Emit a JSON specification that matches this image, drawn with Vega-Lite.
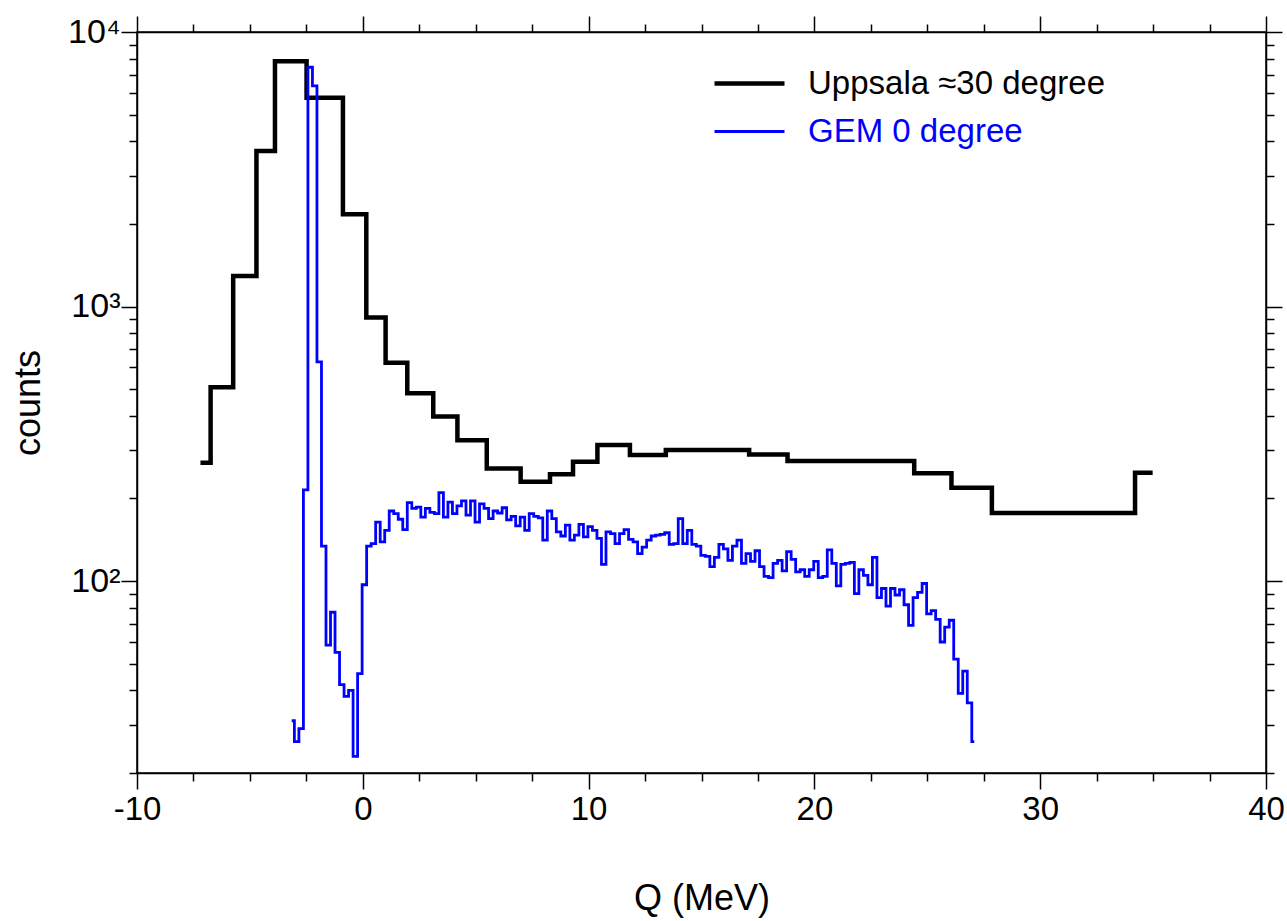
{
  "$schema": "https://vega.github.io/schema/vega-lite/v6.json",
  "autosize": "none",
  "width": 1129,
  "height": 741,
  "padding": {"left": 137, "top": 32, "right": 21, "bottom": 148},
  "background": "white",
  "config": {
    "view": {"stroke": "black", "strokeWidth": 1.5},
    "font": "Liberation Sans",
    "axis": {
      "domainColor": "black", "domainWidth": 1.5,
      "tickColor": "black", "tickWidth": 1.5,
      "labelColor": "black", "titleColor": "black",
      "labelFont": "Liberation Sans", "titleFont": "Liberation Sans",
      "grid": false, "titleFontWeight": "normal", "labelFlush": false, "labelOverlap": false
    },
    "legend": {"labelFont": "Liberation Sans"}
  },
  "datasets": {
    "uppsala": [
      {"q": -7.19, "counts": 270, "series": "Uppsala ≈30 degree"},
      {"q": -6.74, "counts": 508, "series": "Uppsala ≈30 degree"},
      {"q": -5.74, "counts": 1291, "series": "Uppsala ≈30 degree"},
      {"q": -4.71, "counts": 3686, "series": "Uppsala ≈30 degree"},
      {"q": -3.89, "counts": 7820, "series": "Uppsala ≈30 degree"},
      {"q": -2.49, "counts": 5765, "series": "Uppsala ≈30 degree"},
      {"q": -0.88, "counts": 2167, "series": "Uppsala ≈30 degree"},
      {"q": 0.155, "counts": 913, "series": "Uppsala ≈30 degree"},
      {"q": 1.01, "counts": 624, "series": "Uppsala ≈30 degree"},
      {"q": 1.97, "counts": 483, "series": "Uppsala ≈30 degree"},
      {"q": 3.12, "counts": 398, "series": "Uppsala ≈30 degree"},
      {"q": 4.19, "counts": 326, "series": "Uppsala ≈30 degree"},
      {"q": 5.49, "counts": 257, "series": "Uppsala ≈30 degree"},
      {"q": 6.99, "counts": 230, "series": "Uppsala ≈30 degree"},
      {"q": 8.29, "counts": 245, "series": "Uppsala ≈30 degree"},
      {"q": 9.31, "counts": 272, "series": "Uppsala ≈30 degree"},
      {"q": 10.39, "counts": 313, "series": "Uppsala ≈30 degree"},
      {"q": 11.83, "counts": 288, "series": "Uppsala ≈30 degree"},
      {"q": 13.42, "counts": 300, "series": "Uppsala ≈30 degree"},
      {"q": 17.11, "counts": 289, "series": "Uppsala ≈30 degree"},
      {"q": 18.81, "counts": 274, "series": "Uppsala ≈30 degree"},
      {"q": 20.28, "counts": 274, "series": "Uppsala ≈30 degree"},
      {"q": 24.42, "counts": 247, "series": "Uppsala ≈30 degree"},
      {"q": 26.07, "counts": 219, "series": "Uppsala ≈30 degree"},
      {"q": 27.86, "counts": 177, "series": "Uppsala ≈30 degree"},
      {"q": 29.59, "counts": 177, "series": "Uppsala ≈30 degree"},
      {"q": 32.29, "counts": 177, "series": "Uppsala ≈30 degree"},
      {"q": 34.2, "counts": 248, "series": "Uppsala ≈30 degree"},
      {"q": 34.98, "counts": 248, "series": "Uppsala ≈30 degree"}
    ],
    "gem": [
      {"q": -3.15, "counts": 31, "series": "GEM 0 degree"},
      {"q": -3.03, "counts": 26, "series": "GEM 0 degree"},
      {"q": -2.83, "counts": 29, "series": "GEM 0 degree"},
      {"q": -2.63, "counts": 215, "series": "GEM 0 degree"},
      {"q": -2.43, "counts": 7440, "series": "GEM 0 degree"},
      {"q": -2.23, "counts": 6360, "series": "GEM 0 degree"},
      {"q": -2.03, "counts": 629, "series": "GEM 0 degree"},
      {"q": -1.83, "counts": 134, "series": "GEM 0 degree"},
      {"q": -1.63, "counts": 58.5, "series": "GEM 0 degree"},
      {"q": -1.43, "counts": 77, "series": "GEM 0 degree"},
      {"q": -1.23, "counts": 55, "series": "GEM 0 degree"},
      {"q": -1.03, "counts": 42, "series": "GEM 0 degree"},
      {"q": -0.83, "counts": 38, "series": "GEM 0 degree"},
      {"q": -0.63, "counts": 40, "series": "GEM 0 degree"},
      {"q": -0.43, "counts": 23, "series": "GEM 0 degree"},
      {"q": -0.23, "counts": 46, "series": "GEM 0 degree"},
      {"q": -0.03, "counts": 97, "series": "GEM 0 degree"},
      {"q": 0.17, "counts": 134, "series": "GEM 0 degree"},
      {"q": 0.37, "counts": 137, "series": "GEM 0 degree"},
      {"q": 0.57, "counts": 164, "series": "GEM 0 degree"},
      {"q": 0.77, "counts": 139, "series": "GEM 0 degree"},
      {"q": 0.97, "counts": 153, "series": "GEM 0 degree"},
      {"q": 1.17, "counts": 180, "series": "GEM 0 degree"},
      {"q": 1.37, "counts": 176, "series": "GEM 0 degree"},
      {"q": 1.57, "counts": 168, "series": "GEM 0 degree"},
      {"q": 1.77, "counts": 154, "series": "GEM 0 degree"},
      {"q": 1.97, "counts": 193, "series": "GEM 0 degree"},
      {"q": 2.17, "counts": 184, "series": "GEM 0 degree"},
      {"q": 2.37, "counts": 186, "series": "GEM 0 degree"},
      {"q": 2.57, "counts": 171, "series": "GEM 0 degree"},
      {"q": 2.77, "counts": 184, "series": "GEM 0 degree"},
      {"q": 2.97, "counts": 178, "series": "GEM 0 degree"},
      {"q": 3.17, "counts": 176, "series": "GEM 0 degree"},
      {"q": 3.37, "counts": 210, "series": "GEM 0 degree"},
      {"q": 3.57, "counts": 171, "series": "GEM 0 degree"},
      {"q": 3.77, "counts": 194, "series": "GEM 0 degree"},
      {"q": 3.97, "counts": 176, "series": "GEM 0 degree"},
      {"q": 4.17, "counts": 188, "series": "GEM 0 degree"},
      {"q": 4.37, "counts": 196, "series": "GEM 0 degree"},
      {"q": 4.57, "counts": 174, "series": "GEM 0 degree"},
      {"q": 4.77, "counts": 196, "series": "GEM 0 degree"},
      {"q": 4.97, "counts": 164, "series": "GEM 0 degree"},
      {"q": 5.17, "counts": 191, "series": "GEM 0 degree"},
      {"q": 5.37, "counts": 184, "series": "GEM 0 degree"},
      {"q": 5.57, "counts": 169, "series": "GEM 0 degree"},
      {"q": 5.77, "counts": 180, "series": "GEM 0 degree"},
      {"q": 5.97, "counts": 177, "series": "GEM 0 degree"},
      {"q": 6.17, "counts": 185, "series": "GEM 0 degree"},
      {"q": 6.37, "counts": 167, "series": "GEM 0 degree"},
      {"q": 6.57, "counts": 172, "series": "GEM 0 degree"},
      {"q": 6.77, "counts": 159, "series": "GEM 0 degree"},
      {"q": 6.97, "counts": 171, "series": "GEM 0 degree"},
      {"q": 7.17, "counts": 153, "series": "GEM 0 degree"},
      {"q": 7.37, "counts": 176, "series": "GEM 0 degree"},
      {"q": 7.57, "counts": 172, "series": "GEM 0 degree"},
      {"q": 7.77, "counts": 170, "series": "GEM 0 degree"},
      {"q": 7.97, "counts": 141, "series": "GEM 0 degree"},
      {"q": 8.17, "counts": 180, "series": "GEM 0 degree"},
      {"q": 8.37, "counts": 169, "series": "GEM 0 degree"},
      {"q": 8.57, "counts": 151, "series": "GEM 0 degree"},
      {"q": 8.77, "counts": 146, "series": "GEM 0 degree"},
      {"q": 8.97, "counts": 160, "series": "GEM 0 degree"},
      {"q": 9.17, "counts": 141, "series": "GEM 0 degree"},
      {"q": 9.37, "counts": 147, "series": "GEM 0 degree"},
      {"q": 9.57, "counts": 161, "series": "GEM 0 degree"},
      {"q": 9.77, "counts": 145, "series": "GEM 0 degree"},
      {"q": 9.97, "counts": 158, "series": "GEM 0 degree"},
      {"q": 10.17, "counts": 153, "series": "GEM 0 degree"},
      {"q": 10.37, "counts": 143, "series": "GEM 0 degree"},
      {"q": 10.57, "counts": 115, "series": "GEM 0 degree"},
      {"q": 10.77, "counts": 151, "series": "GEM 0 degree"},
      {"q": 10.97, "counts": 149, "series": "GEM 0 degree"},
      {"q": 11.17, "counts": 137, "series": "GEM 0 degree"},
      {"q": 11.37, "counts": 149, "series": "GEM 0 degree"},
      {"q": 11.57, "counts": 154, "series": "GEM 0 degree"},
      {"q": 11.77, "counts": 142, "series": "GEM 0 degree"},
      {"q": 11.97, "counts": 139, "series": "GEM 0 degree"},
      {"q": 12.17, "counts": 126, "series": "GEM 0 degree"},
      {"q": 12.37, "counts": 133, "series": "GEM 0 degree"},
      {"q": 12.57, "counts": 141, "series": "GEM 0 degree"},
      {"q": 12.77, "counts": 146, "series": "GEM 0 degree"},
      {"q": 12.97, "counts": 147, "series": "GEM 0 degree"},
      {"q": 13.17, "counts": 148, "series": "GEM 0 degree"},
      {"q": 13.37, "counts": 150, "series": "GEM 0 degree"},
      {"q": 13.57, "counts": 136, "series": "GEM 0 degree"},
      {"q": 13.77, "counts": 137, "series": "GEM 0 degree"},
      {"q": 13.97, "counts": 169, "series": "GEM 0 degree"},
      {"q": 14.17, "counts": 137, "series": "GEM 0 degree"},
      {"q": 14.37, "counts": 153, "series": "GEM 0 degree"},
      {"q": 14.57, "counts": 136, "series": "GEM 0 degree"},
      {"q": 14.77, "counts": 134, "series": "GEM 0 degree"},
      {"q": 14.97, "counts": 124, "series": "GEM 0 degree"},
      {"q": 15.17, "counts": 123, "series": "GEM 0 degree"},
      {"q": 15.37, "counts": 113, "series": "GEM 0 degree"},
      {"q": 15.57, "counts": 122, "series": "GEM 0 degree"},
      {"q": 15.77, "counts": 136, "series": "GEM 0 degree"},
      {"q": 15.97, "counts": 131, "series": "GEM 0 degree"},
      {"q": 16.17, "counts": 119, "series": "GEM 0 degree"},
      {"q": 16.37, "counts": 134, "series": "GEM 0 degree"},
      {"q": 16.57, "counts": 141, "series": "GEM 0 degree"},
      {"q": 16.77, "counts": 116, "series": "GEM 0 degree"},
      {"q": 16.97, "counts": 126, "series": "GEM 0 degree"},
      {"q": 17.17, "counts": 118, "series": "GEM 0 degree"},
      {"q": 17.37, "counts": 129, "series": "GEM 0 degree"},
      {"q": 17.57, "counts": 113, "series": "GEM 0 degree"},
      {"q": 17.77, "counts": 104, "series": "GEM 0 degree"},
      {"q": 17.97, "counts": 103, "series": "GEM 0 degree"},
      {"q": 18.17, "counts": 116, "series": "GEM 0 degree"},
      {"q": 18.37, "counts": 119, "series": "GEM 0 degree"},
      {"q": 18.57, "counts": 109, "series": "GEM 0 degree"},
      {"q": 18.77, "counts": 128, "series": "GEM 0 degree"},
      {"q": 18.97, "counts": 120, "series": "GEM 0 degree"},
      {"q": 19.17, "counts": 108, "series": "GEM 0 degree"},
      {"q": 19.37, "counts": 110, "series": "GEM 0 degree"},
      {"q": 19.57, "counts": 104, "series": "GEM 0 degree"},
      {"q": 19.77, "counts": 110, "series": "GEM 0 degree"},
      {"q": 19.97, "counts": 118, "series": "GEM 0 degree"},
      {"q": 20.17, "counts": 103, "series": "GEM 0 degree"},
      {"q": 20.37, "counts": 104, "series": "GEM 0 degree"},
      {"q": 20.57, "counts": 130, "series": "GEM 0 degree"},
      {"q": 20.77, "counts": 116, "series": "GEM 0 degree"},
      {"q": 20.97, "counts": 96, "series": "GEM 0 degree"},
      {"q": 21.17, "counts": 115, "series": "GEM 0 degree"},
      {"q": 21.37, "counts": 116, "series": "GEM 0 degree"},
      {"q": 21.57, "counts": 117, "series": "GEM 0 degree"},
      {"q": 21.77, "counts": 90, "series": "GEM 0 degree"},
      {"q": 21.97, "counts": 110, "series": "GEM 0 degree"},
      {"q": 22.17, "counts": 105, "series": "GEM 0 degree"},
      {"q": 22.37, "counts": 97, "series": "GEM 0 degree"},
      {"q": 22.57, "counts": 122, "series": "GEM 0 degree"},
      {"q": 22.77, "counts": 87, "series": "GEM 0 degree"},
      {"q": 22.97, "counts": 94, "series": "GEM 0 degree"},
      {"q": 23.17, "counts": 81, "series": "GEM 0 degree"},
      {"q": 23.37, "counts": 94, "series": "GEM 0 degree"},
      {"q": 23.57, "counts": 89, "series": "GEM 0 degree"},
      {"q": 23.77, "counts": 93, "series": "GEM 0 degree"},
      {"q": 23.97, "counts": 82, "series": "GEM 0 degree"},
      {"q": 24.17, "counts": 69, "series": "GEM 0 degree"},
      {"q": 24.37, "counts": 87, "series": "GEM 0 degree"},
      {"q": 24.57, "counts": 91, "series": "GEM 0 degree"},
      {"q": 24.77, "counts": 98, "series": "GEM 0 degree"},
      {"q": 24.97, "counts": 76, "series": "GEM 0 degree"},
      {"q": 25.17, "counts": 78, "series": "GEM 0 degree"},
      {"q": 25.37, "counts": 72.5, "series": "GEM 0 degree"},
      {"q": 25.57, "counts": 60, "series": "GEM 0 degree"},
      {"q": 25.77, "counts": 68, "series": "GEM 0 degree"},
      {"q": 25.97, "counts": 72, "series": "GEM 0 degree"},
      {"q": 26.17, "counts": 52, "series": "GEM 0 degree"},
      {"q": 26.37, "counts": 39, "series": "GEM 0 degree"},
      {"q": 26.57, "counts": 47, "series": "GEM 0 degree"},
      {"q": 26.77, "counts": 36, "series": "GEM 0 degree"},
      {"q": 26.97, "counts": 26, "series": "GEM 0 degree"},
      {"q": 27.08, "counts": 26, "series": "GEM 0 degree"}
    ]
  },
  "layer": [
    {
      "data": {"name": "uppsala"},
      "mark": {"type": "line", "interpolate": "step-after", "strokeWidth": 4.5, "strokeJoin": "miter", "clip": true},
      "encoding": {
        "x": {
          "field": "q", "type": "quantitative",
          "scale": {"domain": [-10, 40], "nice": false, "zero": false},
          "axis": {
            "orient": "bottom", "title": "Q (MeV)",
            "values": [-10, -7.5, -5, -2.5, 0, 2.5, 5, 7.5, 10, 12.5, 15, 17.5, 20, 22.5, 25, 27.5, 30, 32.5, 35, 37.5, 40],
            "labelExpr": "datum.value % 10 === 0 ? '' + datum.value : ''",
            "tickSize": {"condition": {"test": "datum.value % 10 === 0", "value": 16}, "value": 8},
            "labelFontSize": 33, "labelPadding": 4,
            "titleFontSize": 36, "titlePadding": 55
          }
        },
        "y": {
          "field": "counts", "type": "quantitative",
          "scale": {"type": "log", "domain": [20, 10000], "nice": false},
          "axis": {
            "orient": "left", "title": "counts",
            "values": [20, 30, 40, 50, 60, 70, 80, 90, 100, 200, 300, 400, 500, 600, 700, 800, 900, 1000, 2000, 3000, 4000, 5000, 6000, 7000, 8000, 9000, 10000],
            "labelExpr": "datum.value === 10000 ? '10⁴' : datum.value === 1000 ? '10³' : datum.value === 100 ? '10²' : ''",
            "tickSize": {"condition": {"test": "datum.value === 100 || datum.value === 1000 || datum.value === 10000", "value": 16}, "value": 8},
            "labelFontSize": 34, "labelPadding": 1,
            "titleFontSize": 36, "titlePadding": 20
          }
        },
        "color": {
          "field": "series", "type": "nominal",
          "scale": {"domain": ["Uppsala ≈30 degree", "GEM 0 degree"], "range": ["black", "#0000ff"]},
          "legend": {
            "title": null, "orient": "none", "legendX": 596, "legendY": 35,
            "symbolType": "stroke", "symbolSize": 4900, "symbolStrokeWidth": 4.5,
            "labelFontSize": 33, "labelOffset": 42, "rowPadding": 14, "padding": 0,
            "labelLimit": 600,
            "encode": {
              "labels": {"update": {"fill": {"signal": "datum.value === 'GEM 0 degree' ? '#0000ff' : 'black'"}}},
              "symbols": {"update": {"strokeWidth": {"signal": "datum.value === 'GEM 0 degree' ? 3 : 4.5"}}}
            }
          }
        }
      }
    },
    {
      "data": {"name": "gem"},
      "mark": {"type": "line", "interpolate": "step-after", "strokeWidth": 2.8, "strokeJoin": "miter", "clip": true},
      "encoding": {
        "x": {
          "field": "q", "type": "quantitative",
          "axis": {
            "orient": "top", "title": null, "labels": false,
            "values": [-10, -7.5, -5, -2.5, 0, 2.5, 5, 7.5, 10, 12.5, 15, 17.5, 20, 22.5, 25, 27.5, 30, 32.5, 35, 37.5, 40],
            "tickSize": {"condition": {"test": "datum.value % 10 === 0", "value": 16}, "value": 8}
          }
        },
        "y": {
          "field": "counts", "type": "quantitative",
          "axis": {
            "orient": "right", "title": null, "labels": false,
            "values": [20, 30, 40, 50, 60, 70, 80, 90, 100, 200, 300, 400, 500, 600, 700, 800, 900, 1000, 2000, 3000, 4000, 5000, 6000, 7000, 8000, 9000, 10000],
            "tickSize": {"condition": {"test": "datum.value === 100 || datum.value === 1000 || datum.value === 10000", "value": 16}, "value": 8}
          }
        },
        "color": {"field": "series", "type": "nominal"}
      }
    }
  ],
  "resolve": {"axis": {"x": "independent", "y": "independent"}}
}
